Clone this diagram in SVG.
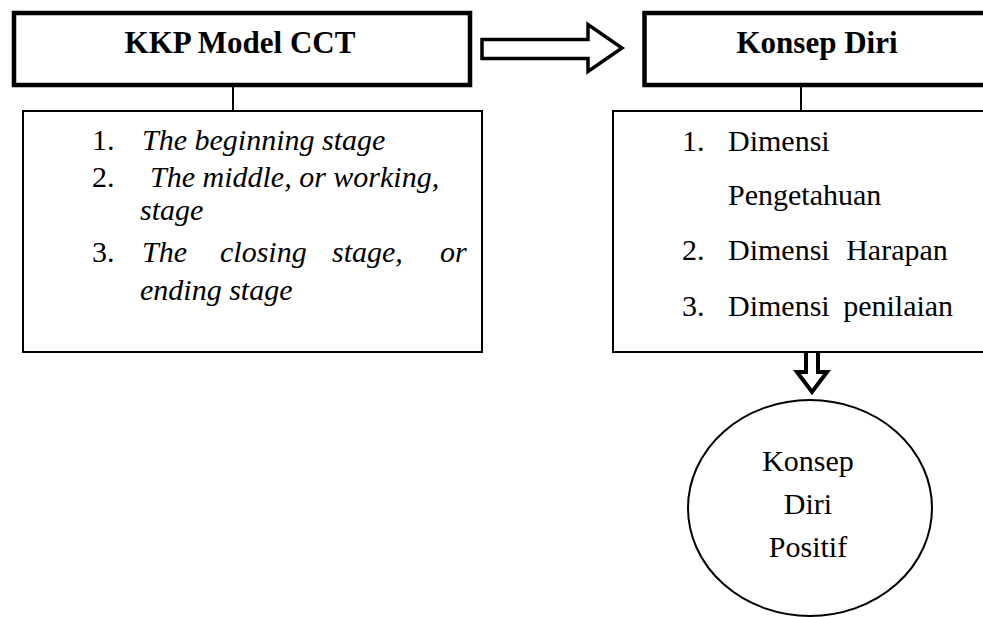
<svg xmlns="http://www.w3.org/2000/svg" width="983" height="617" viewBox="0 0 983 617">
<style>
.thick{fill:#fff;stroke:#000;stroke-width:4.5}
.thin{fill:#fff;stroke:#000;stroke-width:2}
.ln{stroke:#000;stroke-width:2;fill:none}
.hollow{fill:#fff;stroke:#000;stroke-width:3.5;stroke-linejoin:miter}
.hollow2{fill:#fff;stroke:#000;stroke-width:4;stroke-linejoin:miter}
text{font-family:"Liberation Serif","Times New Roman",serif;fill:#000;font-size:30px}
.b{font-weight:bold;font-size:31px}
.i{font-style:italic}
</style>
<g id="connectors">
<line class="ln" x1="233" y1="70" x2="233" y2="111"/>
<line class="ln" x1="801" y1="70" x2="801" y2="111"/>
<path class="hollow" d="M482,39.5 H588 V24.5 L622,48 L588,71.5 V58.5 H482 Z"/>
<path class="hollow2" d="M806,328 H818 V372 H827 L812,392 L797,372 H806 Z"/>
</g>
<g id="kkp">
<rect class="thick" x="14" y="13" width="456" height="72"/>
<text class="b" x="240" y="53" text-anchor="middle">KKP Model CCT</text>
</g>
<g id="stages">
<rect class="thin" x="23" y="111" width="459" height="241"/>
<text x="92" y="150">1.</text>
<text class="i" x="142" y="150">The beginning stage</text>
<text x="92" y="187">2.</text>
<text class="i" x="150" y="187">The middle, or working,</text>
<text class="i" x="140" y="220">stage</text>
<text x="92" y="262">3.</text>
<text class="i" x="142" y="262">The</text>
<text class="i" x="220" y="262">closing</text>
<text class="i" x="332" y="262">stage,</text>
<text class="i" x="440" y="262">or</text>
<text class="i" x="140" y="300">ending stage</text>
</g>
<g id="konsep">
<rect class="thick" x="644.5" y="13" width="400" height="72"/>
<text class="b" x="817" y="53" text-anchor="middle">Konsep Diri</text>
</g>
<g id="dimensi">
<rect class="thin" x="613" y="111" width="400" height="241"/>
<text x="682" y="151">1.</text>
<text x="728" y="151">Dimensi</text>
<text x="728" y="205">Pengetahuan</text>
<text x="682" y="260">2.</text>
<text x="728" y="260" word-spacing="9">Dimensi Harapan</text>
<text x="682" y="316">3.</text>
<text x="728" y="316" word-spacing="6">Dimensi penilaian</text>
</g>
<g id="positif">
<ellipse cx="810" cy="508" rx="122" ry="108" fill="#fff" stroke="#000" stroke-width="2"/>
<text x="808" y="471" text-anchor="middle">Konsep</text>
<text x="808" y="514" text-anchor="middle">Diri</text>
<text x="808" y="557" text-anchor="middle">Positif</text>
</g>
</svg>
